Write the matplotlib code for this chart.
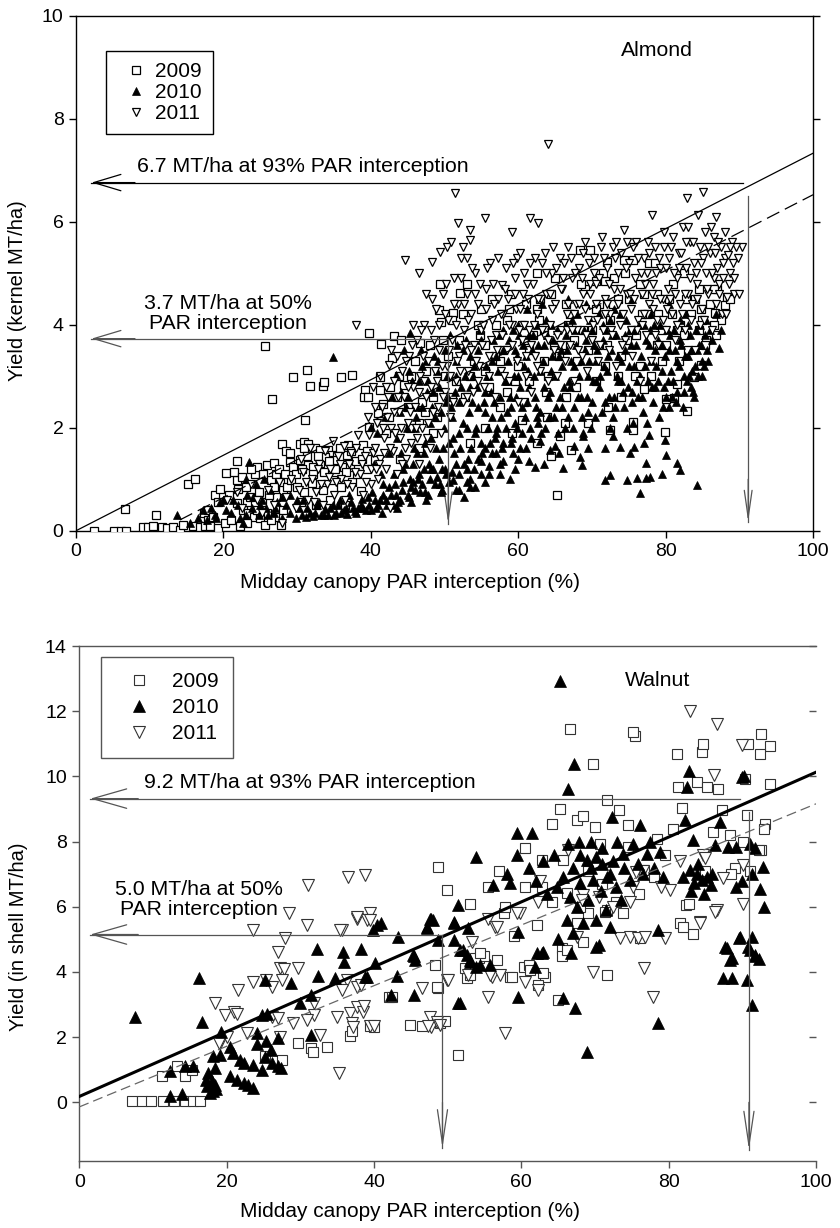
import numpy as np
import matplotlib
matplotlib.use("Agg")
import matplotlib.pyplot as plt
from matplotlib.lines import Line2D

plt.rcParams['font.family'] = ['Liberation Sans', 'DejaVu Sans']

# ---------------- Almond: (PAR interception %, kernel yield MT/ha) ----------------
alm_2009 = [
    (2.5, 0.0), (5.1, 0.0), (6.1, 0.0), (6.8, 0.0), (6.6, 0.43), (9.1, 0.08), (9.8, 0.08), (10.5, 0.1),
    (10.9, 0.30), (11.6, 0.08), (12.3, 0.06), (13.2, 0.08), (14.1, 0.01), (14.5, 0.12), (15.2, 0.9),
    (15.9, 0.1), (16.1, 1.0), (16.8, 0.08), (17.3, 0.34), (17.5, 0.1), (17.9, 0.40), (17.9, 0.2),
    (18.2, 0.1), (18.6, 0.26), (18.9, 0.69), (19.3, 0.56), (19.3, 0.05), (19.6, 0.82), (20.3, 1.13),
    (21.8, 0.98), (21.9, 1.36), (22.0, 0.82), (21.8, 0.54), (22.7, 0.40), (23.2, 0.56), (23.4, 0.34),
    (24.1, 0.27), (23.6, 0.66), (24.3, 1.11), (24.5, 1.24), (25.4, 1.11), (25.9, 1.28), (26.8, 1.31),
    (26.5, 0.98), (27.2, 1.11), (27.7, 0.92), (28.1, 0.79), (28.6, 0.85), (27.2, 0.66), (28.1, 0.40),
    (27.0, 0.26), (25.9, 0.34), (25.0, 0.24), (24.5, 0.40),
    (20.2, 0.15), (21.0, 0.2), (22.3, 0.1), (23.2, 0.15), (25.6, 0.12), (26.4, 0.2), (27.8, 0.12),
    (25.6, 3.59), (26.6, 2.56), (29.4, 2.99), (31.3, 3.13), (31.8, 2.81), (31.1, 2.15), (33.5, 2.81),
    (33.7, 2.88), (35.9, 2.99), (37.5, 3.02), (39.7, 3.84), (41.4, 3.62), (43.1, 3.78), (44.1, 3.70),
    (42.9, 3.35), (39.2, 2.73), (39.1, 2.59), (39.6, 2.59), (41.3, 2.99), (41.3, 2.73), (42.6, 2.80),
    (41.6, 2.47), (41.0, 2.28), (39.8, 2.02), (42.0, 1.90), (44.5, 2.83),
    (28.0, 1.68), (28.5, 1.55), (30.4, 1.69), (31.0, 1.72), (31.5, 1.69), (30.9, 1.60), (32.4, 1.60),
    (33.1, 1.57), (34.2, 1.57), (34.7, 1.48), (35.4, 1.46), (36.0, 1.43), (36.7, 1.48), (36.9, 1.67),
    (38.9, 1.67), (29.0, 1.34), (29.5, 1.24), (30.4, 1.37), (31.5, 1.28), (32.2, 1.24), (33.1, 1.31),
    (33.8, 1.44), (35.0, 1.37), (36.3, 1.24), (37.2, 1.24), (38.0, 1.35), (39.5, 1.20), (40.5, 1.38),
    (29.2, 0.98), (30.0, 0.85), (31.0, 0.75), (32.0, 0.92), (33.5, 0.80), (34.8, 0.98), (36.0, 0.85),
    (37.5, 0.95), (38.6, 0.78), (30.5, 0.55), (32.5, 0.5), (34.5, 0.6), (36.5, 0.5),
    (20.8, 0.7), (21.5, 1.15), (22.5, 1.05), (23.0, 0.85), (23.8, 1.2), (24.8, 0.75), (25.3, 0.55),
    (26.2, 0.7), (26.9, 0.85), (27.6, 1.2), (28.3, 1.1), (29.1, 1.5), (29.8, 1.1), (30.6, 1.2),
    (31.3, 1.45), (32.1, 1.1), (32.8, 1.45), (33.6, 1.15), (34.3, 1.35), (35.1, 1.2), (35.8, 1.6),
    (36.6, 1.15), (37.3, 1.55), (38.1, 1.1), (38.8, 1.4), (39.5, 1.55),
    (46.7, 3.64), (49.2, 4.29), (49.5, 4.06), (49.4, 4.80), (52.1, 4.61), (51.2, 4.22),
    (45.0, 2.4), (46.0, 3.3), (47.0, 2.5), (48.0, 3.6), (49.0, 2.2), (50.0, 3.0), (51.0, 4.1),
    (52.0, 3.7), (53.0, 4.8), (54.0, 3.3), (55.0, 4.3), (56.0, 2.8), (57.0, 4.0), (58.0, 3.5),
    (59.0, 4.6), (60.0, 3.2), (61.0, 4.4), (62.0, 3.8), (63.0, 4.5), (64.0, 3.0), (65.0, 4.9),
    (66.0, 3.6), (67.0, 4.2), (68.0, 3.3), (69.0, 4.7), (70.0, 3.9), (71.0, 4.4), (72.0, 3.6),
    (73.0, 4.9), (74.0, 3.4), (75.0, 4.5), (76.0, 3.8), (77.0, 4.6), (78.0, 3.0), (79.0, 4.2),
    (80.0, 3.6), (81.0, 4.8), (82.0, 4.0), (83.0, 3.5), (84.0, 4.5), (85.0, 4.1), (86.0, 4.4),
    (87.0, 4.7), (88.3, 4.54), (88.1, 4.39), (86.7, 4.22), (68.4, 5.45), (69.7, 5.45), (74.3, 5.26),
    (75.6, 5.26), (72.0, 5.22), (77.7, 5.19), (70.6, 4.84), (71.8, 4.84),
    (42.5, 2.2), (43.5, 2.6), (45.5, 3.0), (46.5, 2.1), (47.5, 3.1), (48.5, 2.6), (50.5, 3.4),
    (51.5, 2.9), (52.5, 4.2), (53.5, 3.0), (54.5, 4.0), (55.5, 3.6), (56.5, 4.5), (57.5, 3.3),
    (58.5, 4.1), (59.5, 2.9), (60.5, 4.0), (61.5, 3.5), (62.5, 4.3), (63.5, 3.9), (64.5, 4.6),
    (65.5, 3.4), (66.5, 4.4), (67.5, 3.7), (68.5, 4.8), (69.5, 3.5), (70.5, 4.3), (71.5, 5.0),
    (72.5, 4.1), (73.5, 4.5), (74.5, 5.0), (75.5, 3.9), (76.5, 4.8), (77.5, 4.2), (78.5, 5.2),
    (79.5, 3.9), (80.5, 4.5), (81.5, 3.9), (82.5, 5.0), (83.5, 4.2), (84.5, 4.7), (85.5, 3.7),
    (86.5, 4.7), (87.5, 4.1), (88.8, 4.5),
    (43.8, 3.0), (45.3, 2.0), (47.3, 2.3), (49.8, 3.7), (52.8, 2.6), (54.8, 3.8), (56.8, 3.4),
    (58.8, 4.3), (60.8, 3.7), (62.8, 4.1), (64.8, 3.6), (66.8, 4.0), (68.8, 3.9), (70.8, 3.6),
    (72.8, 4.4), (74.8, 3.7), (76.8, 4.2), (78.8, 4.6), (80.8, 4.2), (82.8, 4.5), (84.8, 4.3),
    (86.8, 3.8), (60.8, 2.5), (63.8, 2.7), (67.8, 2.8), (71.8, 3.2), (75.8, 3.0), (78.8, 3.6),
    (81.8, 3.3), (85.3, 3.6),
    (59.1, 1.89), (60.5, 2.15), (62.5, 1.70), (63.9, 2.21), (65.6, 1.83), (66.4, 2.09), (64.5, 1.45),
    (67.1, 1.57), (69.5, 2.09), (65.2, 0.69), (72.5, 1.96), (75.6, 2.12), (75.6, 1.95), (79.9, 1.92),
    (82.9, 2.33), (81.2, 2.57), (80.0, 2.55), (83.8, 2.99), (84.8, 3.22), (81.6, 2.85), (72.2, 2.41),
    (74.0, 2.6), (77.0, 2.75), (57.5, 2.4), (55.5, 2.0), (53.5, 1.7), (51.0, 2.6), (48.5, 1.9),
    (46.5, 1.6), (44.0, 1.4), (55.5, 3.1), (58.5, 2.7), (61.5, 2.9), (63.5, 3.3), (66.5, 2.6),
    (70.5, 2.9), (73.5, 3.0), (76.5, 3.2), (79.5, 3.3), (82.5, 3.8), (84.5, 3.9), (86.5, 4.0),
    (62.5, 5.0),
]

alm_2010 = [
    (13.7, 0.31), (15.5, 0.15), (16.5, 0.25), (17.2, 0.4), (17.8, 0.2), (18.3, 0.45), (18.8, 0.3),
    (19.5, 0.55), (20.3, 0.4), (21.3, 0.6), (22.2, 0.25), (22.7, 0.16), (23.5, 1.34), (23.2, 0.7),
    (23.9, 0.45), (24.4, 0.9), (24.8, 0.3), (25.3, 0.6), (25.8, 0.45), (26.3, 0.8), (26.8, 0.35),
    (27.3, 0.55), (27.9, 0.25), (28.5, 0.5), (29.0, 0.7), (29.9, 0.24), (30.3, 0.45), (30.8, 0.6),
    (31.2, 0.27), (31.7, 0.35), (32.2, 0.28), (32.7, 0.5), (33.2, 0.3), (33.8, 0.42), (34.2, 0.3),
    (34.9, 3.37), (34.8, 0.5), (35.3, 0.35), (35.8, 0.6), (36.3, 0.4), (36.8, 0.32), (37.3, 0.55),
    (37.8, 0.38), (38.3, 0.45), (38.8, 0.62), (39.3, 0.4), (39.8, 0.5), (40.2, 0.75), (40.0, 2.02),
    (19.0, 0.25), (20.0, 0.6), (21.0, 0.35), (22.0, 0.5), (23.0, 0.3), (24.0, 0.65), (25.0, 0.5),
    (26.0, 0.3), (27.0, 0.45), (28.0, 0.65), (29.0, 0.35), (30.0, 0.6), (25.5, 1.0), (23.0, 1.0),
    (30.6, 0.3), (31.4, 0.45), (32.4, 0.35), (33.0, 0.55), (33.6, 0.3), (34.4, 0.45), (35.0, 0.3),
    (35.6, 0.5), (36.0, 0.35), (36.6, 0.45), (37.0, 0.7), (37.6, 0.45), (38.0, 0.35), (38.6, 0.5),
    (39.0, 0.45), (39.6, 0.65), (40.0, 0.4), (40.6, 0.6), (41.0, 0.5), (41.6, 0.7), (42.0, 0.6),
    (42.4, 0.85), (43.0, 0.5), (43.4, 0.7), (44.0, 0.6), (44.4, 0.95), (45.0, 0.7), (45.4, 0.85),
    (46.0, 0.8), (46.4, 1.0), (47.0, 0.9), (47.4, 0.75), (48.0, 1.0), (48.4, 1.2), (49.0, 1.05),
    (49.4, 0.9), (50.0, 1.2), (51.0, 1.15), (52.0, 1.1), (53.0, 0.95), (54.0, 1.2), (55.0, 1.35),
    (56.0, 1.1), (57.0, 1.5), (58.0, 1.35), (59.0, 1.7), (60.0, 1.4),
    (41.5, 0.35), (43.5, 0.45), (45.5, 0.55), (47.5, 0.6), (49.5, 0.75), (51.5, 0.8), (53.5, 0.85),
    (55.5, 0.95), (57.5, 1.1), (59.5, 1.2), (61.5, 1.35), (63.5, 1.3), (65.5, 1.5), (67.5, 1.65),
    (69.5, 1.6), (61.0, 1.6), (63.0, 1.75), (65.0, 1.65),
    (40.7, 0.45), (41.2, 0.6), (41.7, 0.9), (42.2, 0.5), (42.7, 0.7), (43.2, 1.1), (43.7, 0.55),
    (44.2, 0.8), (44.7, 1.3), (45.2, 0.65), (45.7, 0.95), (46.2, 1.5), (46.7, 0.75), (47.2, 1.2),
    (47.7, 0.7), (48.2, 1.8), (48.7, 0.9), (49.2, 1.4), (49.7, 0.8), (50.2, 1.1),
    (43.4, 3.02), (45.3, 3.83), (44.5, 3.51), (44.0, 2.3), (45.0, 2.6), (46.0, 2.0), (46.5, 2.9),
    (47.0, 2.4), (47.5, 3.3), (48.0, 2.1), (48.5, 2.7), (49.0, 3.1), (49.5, 2.3), (50.0, 3.5),
    (50.5, 2.6),
    (40.4, 1.3), (40.9, 1.9), (41.4, 1.1), (41.9, 2.2), (42.4, 1.5), (42.9, 2.6), (43.3, 0.9),
    (43.6, 1.8), (44.1, 2.7), (44.4, 1.2), (44.9, 2.0), (45.3, 1.0), (45.6, 2.9), (45.9, 1.6),
    (46.3, 2.4), (46.6, 1.1), (46.9, 3.2), (47.3, 1.7), (47.6, 2.7), (47.9, 1.3), (48.3, 2.4),
    (48.6, 3.4), (48.9, 1.6), (49.3, 2.8), (49.6, 1.2), (49.9, 2.0), (50.3, 3.0), (50.6, 1.7),
    (50.9, 2.4), (51.3, 1.5), (51.6, 3.3), (51.9, 1.9), (52.3, 2.8), (52.6, 1.3), (52.9, 3.7),
    (53.3, 2.3), (53.6, 1.6), (53.9, 3.0), (54.3, 2.0), (54.6, 3.5), (54.9, 1.7), (55.3, 2.5),
    (55.6, 3.2), (55.9, 2.0), (56.3, 2.7), (56.6, 3.7), (56.9, 1.8), (57.3, 3.1), (57.6, 2.2),
    (57.9, 3.5), (58.3, 2.0), (58.6, 3.3), (58.9, 2.6), (59.3, 3.9), (59.6, 2.1), (59.9, 3.4),
    (60.3, 2.8), (60.6, 3.6), (60.9, 2.2), (61.3, 3.1), (61.6, 2.0), (61.9, 3.5), (62.3, 2.6),
    (62.6, 4.0), (62.9, 2.3), (63.3, 3.3), (63.6, 2.0), (63.9, 3.8), (64.3, 2.7), (64.6, 3.4),
    (64.9, 2.2), (65.3, 3.9), (65.6, 2.6), (65.9, 3.2), (66.3, 2.0), (66.6, 3.5), (66.9, 2.9),
    (67.3, 4.1), (67.6, 2.4), (67.9, 3.6), (68.3, 3.0), (68.6, 2.2), (68.9, 3.9), (69.3, 2.6),
    (69.6, 3.3), (69.9, 2.0), (70.3, 3.6), (70.6, 2.9), (70.9, 4.2), (71.3, 2.3), (71.6, 3.2),
    (71.9, 3.9), (72.3, 2.6), (72.6, 3.5), (72.9, 2.2), (73.3, 3.8), (73.6, 2.9), (73.9, 3.3),
    (74.3, 2.4), (74.6, 4.1), (74.9, 2.8), (75.3, 3.6), (75.6, 2.1), (75.9, 3.9), (76.3, 2.6),
    (76.6, 3.4), (76.9, 2.3), (77.3, 3.7), (77.6, 2.9), (77.9, 3.9), (78.3, 2.5), (78.6, 3.5),
    (78.9, 2.9), (79.3, 4.0), (79.6, 2.4), (79.9, 3.4), (80.3, 2.9), (80.6, 3.8), (80.9, 2.6),
    (81.3, 3.5), (81.6, 2.7), (81.9, 4.1), (82.3, 2.4), (82.6, 3.4), (82.9, 2.9), (83.3, 3.8),
    (83.6, 3.1), (83.9, 2.6), (84.3, 3.5), (84.6, 4.0), (84.9, 3.3), (85.3, 3.8), (85.6, 3.5),
    (86.0, 3.9),
    (44.15, 1.5), (44.75, 2.4), (45.15, 3.1), (45.75, 1.3), (46.15, 2.2), (46.75, 3.5), (47.15, 1.5),
    (47.75, 2.9), (48.15, 1.2), (48.75, 2.2), (49.15, 3.3), (49.75, 1.6), (50.15, 2.5), (50.75, 3.8),
    (51.15, 1.8), (51.45, 2.7), (51.75, 3.6), (52.15, 1.6), (52.45, 2.1), (52.75, 3.0), (53.15, 1.4),
    (53.45, 3.4), (53.75, 2.5), (54.15, 1.9), (54.45, 2.8), (54.75, 3.9), (55.15, 1.5), (55.45, 2.3),
    (55.75, 3.0), (56.15, 1.7), (56.45, 3.3), (56.75, 2.5), (57.15, 2.0), (57.45, 3.8), (57.75, 1.6),
    (58.15, 2.9), (58.45, 2.3), (58.75, 3.7), (59.15, 1.8), (59.45, 3.0), (59.75, 2.6), (60.15, 3.8),
    (60.45, 1.9), (60.75, 3.2), (61.15, 2.5), (61.45, 3.8), (61.75, 1.8), (62.15, 3.0), (62.45, 2.4),
    (62.75, 3.6), (63.15, 1.9), (63.45, 2.8), (63.75, 4.1), (64.15, 2.2), (64.45, 3.1), (64.75, 3.7),
    (65.15, 2.4), (65.45, 1.9), (65.75, 3.5), (66.15, 2.8), (66.45, 4.0), (66.75, 2.2), (67.15, 3.3),
    (67.45, 2.0), (67.75, 3.9), (68.15, 2.6), (68.45, 3.3), (68.75, 1.9), (69.15, 3.7), (69.45, 2.3),
    (69.75, 4.1), (70.15, 2.9), (70.45, 2.2), (70.75, 3.5), (71.15, 3.0), (71.45, 4.0), (71.75, 2.5),
    (72.15, 3.4), (72.45, 2.0), (72.75, 3.8), (73.15, 2.4), (73.45, 3.0), (73.75, 4.2), (74.15, 2.7),
    (74.45, 3.5), (74.75, 2.0), (75.15, 3.9), (75.45, 2.5), (75.75, 3.2), (76.15, 2.9), (76.45, 4.0),
    (76.75, 2.6), (77.15, 3.2), (77.45, 2.1), (77.75, 3.6), (78.15, 2.8), (78.45, 4.0), (78.75, 3.2),
    (79.15, 2.2), (79.45, 3.6), (79.75, 2.8), (80.15, 3.9), (80.45, 2.4), (80.75, 3.1), (81.15, 3.9),
    (81.45, 2.5), (81.75, 3.2), (82.15, 3.6), (82.45, 2.7), (82.75, 4.2), (83.15, 3.0), (83.45, 3.5),
    (83.75, 2.7), (84.15, 3.9), (84.45, 3.0), (84.75, 3.6), (85.15, 3.2), (85.45, 4.1), (85.8, 3.3),
    (86.3, 3.7), (86.8, 4.2), (87.5, 3.9),
    (50.6, 0.95), (51.2, 0.98), (51.5, 1.3), (52.0, 0.8), (52.6, 0.66), (53.0, 1.2), (53.5, 1.0),
    (54.1, 0.85), (54.5, 1.4), (55.0, 1.1), (55.5, 1.6), (56.0, 1.25), (56.5, 1.5), (57.0, 1.9),
    (57.5, 1.3), (58.0, 1.7), (58.9, 1.0), (59.3, 1.5), (59.8, 2.0), (60.3, 1.6),
    (51.0, 2.2), (51.5, 3.0), (52.0, 2.5), (52.5, 3.5), (53.0, 2.0), (53.5, 2.8), (54.0, 3.2),
    (54.5, 2.4), (55.0, 3.7), (55.5, 2.7), (56.0, 3.0), (56.5, 2.2), (57.0, 3.4), (57.5, 2.6),
    (58.0, 3.9), (58.5, 2.9), (59.0, 2.4), (59.5, 3.5), (60.0, 3.0), (60.0, 4.0),
    (60.5, 2.4), (61.0, 3.4), (61.5, 2.8), (62.0, 3.8), (62.3, 1.24), (62.7, 2.09), (62.5, 2.2),
    (63.0, 3.1), (63.5, 3.6), (64.0, 2.6), (64.3, 1.57), (64.5, 4.0), (65.0, 3.0), (65.5, 3.4),
    (66.0, 2.4), (66.1, 1.21), (66.5, 3.8), (67.0, 2.8), (67.5, 3.2), (68.0, 4.2), (68.4, 1.44),
    (68.6, 1.28), (68.8, 1.83), (68.5, 2.6), (69.0, 3.5), (69.5, 3.0), (70.0, 2.5), (70.0, 3.9),
    (61.2, 4.3), (63.2, 4.4), (66.8, 4.5), (69.2, 4.4),
    (70.5, 3.3), (71.0, 2.8), (71.5, 3.7), (71.8, 0.98), (71.8, 1.6), (72.0, 3.1), (72.5, 1.08),
    (72.9, 1.83), (72.5, 4.1), (73.0, 2.6), (73.5, 3.4), (73.8, 1.63), (74.0, 2.9), (74.5, 3.8),
    (74.7, 0.98), (75.0, 3.2), (75.2, 1.5), (75.5, 2.7), (75.7, 1.63), (76.0, 3.6), (76.1, 1.02),
    (76.5, 0.73), (76.5, 3.0), (77.0, 4.0), (77.0, 1.7), (77.4, 1.02), (77.4, 1.31), (77.7, 1.86),
    (77.9, 1.05), (78.0, 3.3), (78.5, 2.8), (79.0, 3.7), (79.5, 1.11), (79.9, 1.76), (79.5, 3.1),
    (80.0, 2.6), (80.1, 1.47),
    (80.5, 3.5), (81.0, 2.9), (81.5, 1.31), (81.5, 3.3), (82.0, 1.18), (82.0, 3.7), (82.5, 3.0),
    (83.0, 3.4), (83.5, 2.8), (84.0, 3.2), (84.2, 0.89), (84.5, 3.6), (85.0, 3.0), (87.2, 3.54),
    (73.0, 4.3), (75.5, 4.5), (78.0, 4.2), (80.5, 4.4), (83.0, 4.0),
]

alm_2011 = [
    (20.5, 0.6), (21.8, 0.75), (22.5, 0.45), (23.8, 0.9), (24.5, 0.6), (25.2, 0.35), (26.0, 0.8),
    (26.8, 0.5), (27.5, 0.95), (28.0, 0.16), (28.5, 0.65), (29.2, 1.0), (29.8, 0.45), (30.3, 0.8),
    (30.8, 1.15), (31.5, 0.6), (32.0, 1.0), (32.5, 0.75), (33.0, 1.3), (33.5, 0.5), (34.0, 0.9),
    (34.5, 1.2), (35.0, 0.7), (35.5, 1.45), (36.0, 1.0), (36.5, 0.6), (37.0, 1.3), (37.5, 0.85),
    (38.0, 1.6), (38.0, 3.99), (38.5, 1.1), (39.0, 0.7), (39.2, 1.45), (39.8, 1.85), (40.0, 1.2),
    (40.0, 0.9),
    (30.5, 1.4), (31.2, 0.95), (31.8, 1.6), (32.3, 0.55), (32.8, 1.2), (33.3, 0.9), (33.8, 1.55),
    (34.3, 1.05), (34.8, 1.75), (35.3, 0.95), (35.8, 1.3), (36.3, 1.65), (36.8, 0.9), (37.3, 1.5),
    (37.8, 1.15), (38.3, 1.85), (38.8, 1.3), (39.3, 0.95), (39.6, 2.2), (40.3, 1.5),
    (40.5, 1.6), (40.8, 2.1), (41.0, 1.0), (41.3, 1.4), (41.5, 2.4), (41.8, 1.8), (42.0, 1.2),
    (42.4, 3.22), (42.3, 2.6), (42.6, 0.45), (42.8, 2.0), (43.0, 1.55), (43.2, 2.9), (43.5, 1.1),
    (43.8, 2.3), (44.0, 1.8), (44.2, 3.1), (44.6, 5.26), (44.5, 2.6), (44.8, 1.4), (45.0, 2.1),
    (45.2, 3.4), (45.5, 1.7), (45.7, 2.8), (46.0, 2.4), (46.2, 3.7), (46.5, 1.3), (46.7, 3.0),
    (47.0, 2.0), (47.2, 4.0), (47.5, 2.6), (47.8, 3.3), (48.0, 1.6), (48.3, 5.22), (48.2, 3.9),
    (48.5, 2.3), (48.8, 4.3), (49.0, 2.9), (49.4, 5.42), (49.2, 3.5), (49.5, 1.9), (49.8, 4.6),
    (50.0, 2.7), (50.4, 5.51), (50.3, 3.2), (50.5, 4.1), (50.8, 2.2),
    (40.6, 2.4), (41.1, 1.3), (41.6, 2.0), (42.1, 2.8), (42.6, 1.6), (43.1, 2.3), (43.6, 3.4),
    (44.1, 2.0), (44.6, 1.6), (45.1, 2.8), (45.6, 3.6), (46.1, 2.0), (46.6, 2.7), (47.1, 3.4),
    (47.6, 1.8), (48.1, 2.8), (48.6, 3.7), (49.1, 2.4), (49.6, 3.2), (50.1, 4.2),
    (40.25, 2.8), (40.75, 1.2), (41.25, 3.0), (41.75, 1.5), (42.25, 2.2), (42.75, 3.5), (43.25, 1.9),
    (43.75, 2.6), (44.25, 1.3), (44.75, 3.3), (45.25, 2.3), (45.75, 4.0), (46.25, 1.8), (46.75, 3.9),
    (47.25, 2.9), (47.75, 2.1), (48.25, 4.5), (48.75, 3.1), (49.25, 4.0), (49.75, 2.6),
    (51.0, 3.7), (51.4, 6.55), (51.3, 4.9), (51.5, 2.9), (51.8, 5.98), (51.8, 4.4), (52.0, 3.4),
    (52.2, 5.3), (52.5, 2.5), (52.7, 3.9), (53.0, 4.6), (53.2, 3.1), (53.5, 5.84), (53.5, 5.65),
    (53.6, 4.2), (53.8, 2.7), (54.0, 3.6), (54.2, 5.0), (54.5, 4.4), (54.7, 3.2), (55.0, 3.9),
    (55.5, 6.07), (55.3, 2.8), (55.6, 4.7), (56.0, 3.4), (56.2, 5.2), (56.5, 4.1), (56.8, 2.6),
    (57.0, 3.8), (57.3, 4.5), (57.8, 4.77), (57.6, 3.1), (58.0, 4.2), (58.3, 5.1), (58.5, 3.5),
    (58.8, 2.9), (59.1, 5.81), (59.2, 4.0), (59.5, 4.6), (59.8, 5.29), (59.8, 3.3), (60.0, 2.5),
    (50.6, 3.5), (51.1, 2.5), (51.6, 4.0), (52.1, 3.1), (52.6, 4.4), (53.1, 2.6), (53.6, 3.5),
    (54.1, 4.6), (54.6, 2.9), (55.1, 3.6), (55.6, 4.3), (56.1, 3.0), (56.6, 4.8), (57.1, 3.5),
    (57.6, 4.2), (58.1, 3.0), (58.6, 4.5), (59.1, 3.6), (59.6, 4.9), (60.1, 3.9),
    (50.25, 4.8), (50.75, 3.0), (51.25, 4.4), (51.75, 3.3), (52.25, 4.9), (52.75, 3.6), (53.25, 4.1),
    (53.75, 5.1), (54.25, 3.3), (54.75, 4.8), (55.25, 4.0), (55.75, 5.1), (56.25, 3.7), (56.75, 4.4),
    (57.25, 5.3), (57.75, 3.8), (58.25, 4.7), (58.75, 4.0), (59.25, 5.2), (59.75, 4.3),
    (50.9, 5.6), (52.5, 5.5), (53.0, 5.3), (46.5, 5.0), (47.5, 4.6),
    (60.3, 4.3), (60.5, 3.7), (60.8, 5.0), (61.0, 3.0), (61.3, 4.5), (61.6, 6.07), (61.5, 3.9),
    (61.8, 2.7), (62.0, 4.8), (62.3, 3.4), (62.7, 5.97), (62.6, 4.2), (63.0, 3.1), (63.2, 5.2),
    (63.5, 3.8), (63.8, 4.6), (64.0, 7.5), (64.0, 2.9), (64.3, 4.0), (64.6, 5.0), (64.8, 3.5),
    (65.0, 4.4), (65.3, 3.0), (65.6, 5.3), (65.8, 3.9), (66.0, 4.7), (66.3, 3.3), (66.6, 4.2),
    (66.8, 5.5), (67.0, 3.6), (67.3, 4.9), (67.5, 2.9), (67.8, 4.4), (68.0, 3.9), (68.3, 5.1),
    (68.6, 3.4), (68.8, 4.6), (69.0, 5.6), (69.3, 3.1), (69.5, 4.1), (69.8, 4.8), (70.0, 3.7),
    (60.6, 4.6), (61.1, 3.4), (61.6, 5.2), (62.1, 4.0), (62.6, 3.2), (63.1, 4.5), (63.6, 5.4),
    (64.1, 3.7), (64.6, 4.3), (65.1, 5.1), (65.6, 3.6), (66.1, 4.9), (66.6, 3.9), (67.1, 5.3),
    (67.6, 4.2), (68.1, 3.5), (68.6, 4.9), (69.1, 4.3), (69.6, 5.2), (70.1, 4.0),
    (60.25, 5.4), (60.75, 4.0), (61.25, 4.8), (61.75, 3.6), (62.25, 5.3), (62.75, 4.5), (63.25, 3.9),
    (63.75, 5.0), (64.25, 4.6), (64.75, 5.5), (65.25, 3.8), (65.75, 4.7), (66.25, 5.2), (66.75, 4.4),
    (67.25, 3.9), (67.75, 5.0), (68.25, 4.4), (68.75, 5.4), (69.25, 3.8), (69.75, 4.6),
    (70.3, 5.3), (70.5, 4.4), (70.8, 3.3), (71.0, 4.9), (71.3, 5.7), (71.5, 3.9), (71.8, 4.5),
    (72.0, 5.1), (72.3, 3.5), (72.5, 4.2), (72.8, 5.5), (73.0, 4.7), (73.3, 3.2), (73.5, 5.0),
    (73.8, 4.0), (74.0, 5.4), (74.3, 5.84), (74.5, 3.7), (74.7, 4.6), (75.0, 5.2), (75.3, 4.3),
    (75.5, 3.4), (75.8, 4.9), (76.0, 5.6), (76.3, 4.1), (76.5, 2.9), (76.8, 4.6), (77.0, 5.3),
    (77.3, 3.8), (77.5, 5.0), (77.8, 4.4), (78.1, 6.13), (78.0, 3.3), (78.3, 4.8), (78.6, 5.5),
    (78.8, 4.1), (79.0, 3.6), (79.3, 5.1), (79.6, 4.5), (79.8, 5.8), (80.0, 3.9),
    (70.6, 4.8), (71.1, 3.6), (71.6, 5.3), (72.1, 4.4), (72.6, 3.9), (73.1, 5.3), (73.6, 4.4),
    (74.1, 3.6), (74.6, 5.1), (75.1, 4.6), (75.6, 5.5), (76.1, 3.9), (76.6, 5.0), (77.1, 4.2),
    (77.6, 5.6), (78.1, 4.6), (78.6, 3.8), (79.1, 5.3), (79.6, 4.1), (80.1, 5.1),
    (70.25, 5.0), (70.75, 4.1), (71.25, 5.5), (71.75, 4.2), (72.25, 4.8), (72.75, 3.8), (73.25, 5.6),
    (73.75, 4.7), (74.25, 4.2), (74.75, 5.6), (75.25, 3.9), (75.75, 4.5), (76.25, 5.3), (76.75, 4.0),
    (77.25, 4.8), (77.75, 5.4), (78.25, 4.3), (78.75, 5.0), (79.25, 4.5), (79.75, 5.5),
    (80.3, 4.7), (80.5, 5.3), (80.8, 4.2), (81.0, 5.7), (81.3, 3.7), (81.5, 4.9), (81.8, 5.4),
    (82.0, 4.4), (82.3, 5.9), (82.6, 3.9), (82.9, 6.47), (82.8, 5.1), (83.0, 4.6), (83.3, 5.6),
    (83.5, 4.1), (83.8, 5.2), (84.0, 3.5), (84.4, 6.13), (84.3, 4.8), (84.6, 5.5), (85.1, 6.58),
    (85.0, 4.3), (85.3, 5.8), (85.5, 5.0), (85.8, 4.6), (86.0, 5.4), (86.3, 3.9), (86.5, 5.7),
    (86.9, 6.1), (86.8, 4.4), (87.0, 5.1), (87.3, 4.8), (87.5, 5.5), (87.8, 4.9), (88.0, 5.3),
    (88.5, 5.35), (88.3, 4.54), (88.7, 5.0), (89.0, 5.6), (89.3, 4.6), (90.4, 5.51),
    (80.6, 4.5), (81.1, 5.0), (81.6, 4.0), (82.1, 5.4), (82.6, 4.6), (83.1, 5.9), (83.6, 4.4),
    (84.1, 5.0), (84.6, 4.0), (85.1, 5.3), (85.6, 4.7), (86.1, 5.9), (86.6, 4.9), (87.1, 5.6),
    (87.6, 4.2), (88.1, 5.8), (88.6, 4.8), (89.1, 5.2), (89.6, 5.5), (90.0, 4.6),
    (80.25, 4.3), (80.75, 5.5), (81.25, 4.6), (81.75, 5.1), (82.25, 4.2), (82.75, 5.6), (83.25, 4.9),
    (83.75, 5.6), (84.25, 4.5), (84.75, 5.2), (85.25, 4.1), (85.75, 5.5), (86.25, 5.0), (86.75, 5.4),
    (87.25, 4.6), (87.75, 5.2), (88.25, 4.2), (88.75, 5.5), (89.25, 4.9), (89.8, 5.3),
]

# ---------------- Walnut: (PAR interception %, in-shell yield MT/ha) ----------------
wal_2009 = [
    (7.1, 0.03), (8.5, 0.03), (9.8, 0.03), (11.4, 0.03), (12.8, 0.03), (14.3, 0.03), (15.5, 0.03),
    (16.4, 0.03), (11.2, 0.82), (13.2, 1.10), (14.4, 0.80), (15.3, 0.98), (25.2, 1.41), (27.5, 1.29),
    (29.7, 1.82), (31.5, 1.66), (31.7, 1.56), (33.6, 1.71), (36.7, 2.04), (37.0, 2.2), (39.5, 2.33),
    (40.0, 2.3), (42.0, 3.24), (42.4, 3.24), (44.9, 2.38), (46.5, 2.33), (49.0, 2.43), (49.6, 2.5),
    (51.4, 1.46), (48.3, 4.22), (48.7, 3.50), (52.6, 3.81), (53.0, 3.9), (54.2, 4.42), (55.0, 4.5),
    (56.7, 4.37), (58.5, 3.86), (60.3, 4.16), (61.0, 4.2), (63.2, 3.86), (62.2, 3.6), (65.0, 3.14),
    (65.5, 4.73), (65.5, 4.5), (68.4, 4.93), (71.6, 3.91), (67.5, 5.49), (69.1, 5.80), (71.6, 5.9),
    (73.8, 5.80), (57.6, 5.80), (62.1, 5.44), (81.5, 5.49), (83.3, 5.18), (82.4, 6.05), (76.1, 5.03),
    (66.6, 11.46), (75.4, 11.25), (75.1, 11.35), (69.8, 10.39), (81.1, 10.69), (84.5, 10.74),
    (84.7, 11.0), (92.6, 11.31), (93.8, 10.92), (92.4, 10.69), (90.8, 11.0), (93.8, 9.78),
    (83.8, 9.83), (85.2, 9.67), (86.7, 9.62), (81.3, 9.67), (90.4, 9.93), (71.6, 9.27), (73.2, 8.96),
    (65.3, 9.01), (67.5, 8.65), (68.4, 8.8), (70.0, 8.45), (64.1, 8.55), (74.5, 8.5), (81.8, 9.04),
    (87.2, 8.98), (90.6, 8.81), (93.1, 8.55), (92.9, 8.4), (90.1, 7.99), (92.6, 7.73), (88.3, 8.19),
    (80.6, 8.4), (78.4, 8.09), (60.5, 7.79), (62.8, 7.43), (65.7, 7.43), (74.5, 7.84), (70.7, 7.94),
    (48.7, 7.22), (49.9, 6.51), (53.0, 6.1), (60.5, 6.61), (62.8, 6.6), (66.2, 6.41), (72.9, 6.15),
    (71.4, 5.85), (82.7, 6.1), (81.9, 5.39), (76.6, 7.12), (64.1, 6.15), (57.8, 6.0), (66.2, 4.67),
    (63.0, 3.96), (61.2, 4.06), (58.7, 3.86), (53.7, 4.42), (54.4, 4.57), (52.4, 4.11), (48.5, 3.55),
    (92.2, 7.73), (89.0, 7.2), (85.0, 7.1), (78.0, 6.9), (79.5, 7.6), (57.0, 7.1), (55.5, 6.6),
    (59.0, 5.1), (68.0, 6.0), (69.0, 7.1), (71.0, 6.7), (76.0, 6.4), (86.0, 8.3), (88.5, 7.0),
    (91.0, 7.1),
]

wal_2010 = [
    (7.6, 2.63), (16.2, 3.83), (16.7, 2.45), (12.3, 0.95), (14.3, 1.1), (15.5, 1.1), (12.3, 0.18),
    (14.0, 0.25), (17.3, 0.5), (17.7, 0.3), (18.2, 0.34), (18.4, 0.52), (17.5, 0.9), (18.4, 1.05),
    (17.2, 0.7), (18.0, 0.65), (18.6, 0.4), (18.2, 1.41), (19.1, 1.45), (19.3, 2.17), (20.5, 1.71),
    (20.9, 1.51), (20.5, 0.8), (21.4, 0.7), (21.8, 1.31), (22.4, 1.2), (22.9, 0.54), (23.6, 0.44),
    (22.3, 0.59), (23.6, 1.15), (24.1, 2.12), (24.1, 1.8), (24.8, 1.0), (25.2, 1.4), (25.4, 1.87),
    (25.2, 3.76), (24.8, 2.68), (25.5, 2.7), (26.1, 1.2), (27.0, 1.1), (27.4, 1.05), (27.0, 1.97),
    (26.0, 1.6), (28.8, 3.65), (29.96, 3.04), (31.5, 3.3), (32.4, 3.88), (32.2, 4.7), (31.5, 2.07),
    (34.7, 3.81), (35.8, 4.62), (35.9, 4.31), (38.2, 4.7), (39.0, 3.86), (40.1, 4.27), (40.4, 5.44),
    (40.9, 5.5), (39.9, 5.29), (43.3, 5.06), (43.1, 3.88), (42.3, 3.3), (45.4, 3.3), (45.5, 4.5),
    (47.2, 5.34), (47.8, 5.64), (48.7, 4.98), (50.8, 5.54), (50.8, 4.98), (51.4, 3.04), (45.3, 4.52),
    (45.6, 4.37), (47.2, 5.39), (47.6, 5.64),
    (65.3, 12.93), (67.1, 10.39), (66.4, 9.62), (82.7, 10.18), (82.5, 9.67), (89.9, 9.98),
    (90.2, 10.0), (72.3, 8.75), (76.1, 8.5), (82.2, 8.65), (87.0, 8.6), (59.4, 8.25), (61.4, 8.25),
    (53.9, 7.53), (59.4, 7.58), (66.4, 7.94), (58.0, 7.02), (56.2, 6.66), (58.5, 6.72), (51.4, 6.05),
    (48.0, 5.59), (50.8, 5.49), (52.8, 5.34), (52.1, 4.67), (53.0, 4.37), (54.4, 4.21), (59.6, 5.23),
    (62.1, 4.57), (63.0, 4.62),
    (68.9, 7.43), (70.2, 7.53), (72.0, 7.02), (73.8, 7.63), (75.2, 7.94), (77.0, 7.63), (78.8, 7.68),
    (79.3, 6.92), (74.8, 6.82), (71.6, 6.92), (69.8, 6.82), (68.0, 6.72), (65.7, 6.92), (64.8, 6.61),
    (66.6, 6.31), (67.5, 6.0), (66.2, 5.59), (68.4, 5.49), (70.2, 5.59), (72.0, 5.39), (67.0, 7.2),
    (68.0, 7.6), (69.5, 7.2), (71.0, 7.3), (72.5, 7.4), (74.0, 7.2), (75.8, 7.3), (76.5, 7.0),
    (78.0, 7.2), (70.8, 6.5), (72.8, 6.6), (73.5, 6.2), (69.0, 6.2), (71.5, 5.9), (63.5, 6.4),
    (62.0, 6.8), (61.0, 7.2), (63.0, 7.4), (64.5, 7.6), (67.8, 8.0), (69.5, 8.0), (71.0, 7.8),
    (73.0, 8.0), (77.5, 8.0), (65.0, 5.0), (67.0, 5.2),
    (82.0, 6.92), (82.9, 7.12), (83.8, 7.02), (84.5, 6.82), (85.2, 6.92), (83.4, 6.72), (85.8, 6.66),
    (85.9, 7.0), (89.2, 6.61), (92.4, 6.56), (92.8, 7.22), (91.3, 7.02), (91.7, 7.79), (91.1, 7.94),
    (88.1, 7.84), (86.3, 7.89), (89.2, 7.84), (83.3, 8.04), (84.0, 7.3), (83.0, 6.5), (84.8, 6.4),
    (93.0, 6.0), (90.0, 6.8),
    (87.6, 4.78), (89.5, 5.03), (91.3, 5.08), (88.6, 4.42), (91.0, 4.67), (91.7, 4.5), (92.2, 4.4),
    (87.4, 3.81), (88.6, 3.81), (90.6, 3.76), (91.3, 2.99), (88.3, 4.37), (87.9, 4.73), (89.7, 5.08),
    (90.8, 4.78), (91.7, 4.52),
    (59.6, 3.24), (51.7, 3.04), (65.7, 3.2), (67.3, 2.89), (78.6, 2.43), (70.5, 4.83), (66.8, 4.57),
    (78.6, 5.29), (68.9, 1.56), (62.8, 4.57), (61.9, 4.16), (70.2, 4.78), (53.0, 4.32), (53.9, 4.16),
    (52.6, 4.52), (51.7, 4.67), (55.7, 4.21), (38.8, 3.86),
]

wal_2011 = [
    (18.4, 3.04), (21.6, 3.45), (19.8, 2.68), (21.0, 2.78), (21.4, 2.7), (22.7, 2.12), (19.1, 1.82),
    (23.6, 3.7), (25.4, 3.76), (26.1, 3.55), (27.0, 4.62), (27.2, 4.11), (27.8, 4.1), (27.5, 3.74),
    (23.6, 5.29), (27.9, 5.03), (28.4, 5.80), (29.7, 4.11), (30.9, 5.44), (31.8, 3.04), (31.8, 2.68),
    (29.0, 2.43), (26.1, 2.63), (27.0, 2.6), (32.7, 2.07), (35.2, 0.9), (35.6, 5.29), (36.3, 3.76),
    (37.7, 5.64), (39.5, 5.80), (39.0, 5.6), (35.0, 2.63), (36.7, 2.74), (37.7, 2.94), (38.5, 2.78),
    (38.7, 2.97), (37.0, 2.43), (37.2, 2.3), (39.5, 2.33), (40.0, 2.33), (35.6, 3.45), (37.7, 3.55),
    (38.2, 3.6), (46.5, 3.5), (47.6, 2.63), (47.7, 2.3), (49.9, 3.76), (30.9, 2.53), (27.2, 2.02),
    (20.0, 2.02), (18.9, 1.82), (36.5, 6.92), (38.8, 6.97), (31.1, 6.66), (37.7, 5.69), (39.5, 5.6),
    (35.4, 5.29),
    (82.9, 12.02), (86.5, 11.6), (89.9, 10.95), (86.1, 10.03), (66.4, 7.73), (84.7, 7.58), (85.0, 7.5),
    (90.1, 7.28), (87.4, 6.87), (75.2, 6.61), (75.6, 7.07), (76.5, 7.1), (68.4, 6.36), (68.2, 6.2),
    (62.3, 6.15), (55.5, 5.64), (56.4, 5.39), (59.8, 5.80), (80.2, 6.51), (86.5, 5.90), (90.1, 6.1),
    (84.2, 5.54), (79.5, 5.03), (76.6, 4.11), (77.9, 3.24), (69.8, 4.01), (73.4, 5.03), (74.7, 5.08),
    (75.9, 5.03), (76.8, 5.08), (67.5, 5.08), (57.8, 2.12), (55.5, 3.24), (62.3, 3.45), (52.8, 3.91),
    (56.0, 3.86), (60.5, 3.7), (56.7, 5.39), (48.5, 2.48), (49.0, 2.38), (47.4, 2.33), (50.1, 3.76),
    (55.7, 3.91), (57.1, 3.91), (86.3, 5.85), (84.3, 5.49), (74.7, 6.15), (59.4, 5.80), (53.3, 4.93),
    (62.5, 6.8), (70.5, 6.3), (72.5, 6.0), (79.0, 6.6), (81.5, 7.4),
]

# Fitted lines: (intercept, slope, x start, x end)
alm_fit_solid = (0.0, 0.0733, 0.0, 100.0)
alm_fit_dash = (-0.826, 0.0735, 14.1, 100.0)
wal_fit_solid = (0.18, 0.0995, 0.0, 100.0)
wal_fit_dash = (-0.14, 0.093, 0.0, 100.0)

years = ['2009', '2010', '2011']
x_ticks = [0, 20, 40, 60, 80, 100]

FS_TICK = 14
FS_TEXT = 15.3
FS_LABEL = 15
FS_YLABEL = 14.5


def xy(pts):
    a = np.array(pts, dtype=float)
    return a[:, 0], a[:, 1]


def fit_line(ax, fit, **kw):
    b0, b1, x0, x1 = fit
    xs = np.array([x0, x1])
    ax.plot(xs, b0 + b1 * xs, **kw)


def open_arrow(ax, start, tip, color, lw, hl, hw):
    ax.annotate('', xy=tip, xytext=start,
                arrowprops=dict(arrowstyle=f'->,head_length={hl},head_width={hw}',
                                mutation_scale=14, lw=lw, color=color,
                                shrinkA=0, shrinkB=0))


fig = plt.figure(figsize=(8.4, 12.28), dpi=100)

# ======================= Almond panel =======================
ax1 = fig.add_axes([0.0905, 0.5678, 0.8774, 0.4194])
ax1.set_xlim(0, 100)
ax1.set_ylim(0, 10)

sq_a = dict(ls='none', marker='s', ms=5.5, mfc='white', mec='black', mew=0.9)
dn_a = dict(ls='none', marker='v', ms=6.4, mfc='white', mec='black', mew=0.9)
up_a = dict(ls='none', marker='^', ms=5.6, mfc='black', mec='black', mew=0.5)

x, y = xy(alm_2009)
ax1.plot(x, y, zorder=3, **sq_a)
x, y = xy(alm_2010)
ax1.plot(x, y, zorder=4, **up_a)
x, y = xy(alm_2011)
ax1.plot(x, y, zorder=5, **dn_a)

fit_line(ax1, alm_fit_solid, color='black', lw=0.9, zorder=6)
fit_line(ax1, alm_fit_dash, color='black', lw=0.9, dashes=(11, 5), zorder=6)

# reference arrows
ax1.plot([2.1, 90.5], [6.76, 6.76], color='black', lw=0.9, zorder=7)
open_arrow(ax1, (8.0, 6.76), (2.1, 6.76), 'black', 0.9, 1.4, 0.42)
ax1.plot([2.1, 50.5], [3.73, 3.73], color='#555555', lw=0.9, zorder=7)
open_arrow(ax1, (8.0, 3.73), (2.1, 3.73), '#555555', 0.9, 1.4, 0.42)
ax1.plot([50.5, 50.5], [3.73, 0.14], color='#555555', lw=0.9, zorder=7)
open_arrow(ax1, (50.5, 1.0), (50.5, 0.14), '#555555', 0.9, 1.4, 0.2)
ax1.plot([91.2, 91.2], [6.49, 0.17], color='#555555', lw=0.9, zorder=7)
open_arrow(ax1, (91.2, 1.0), (91.2, 0.17), '#555555', 0.9, 1.4, 0.2)

ax1.text(8.3, 7.07, '6.7 MT/ha at 93% PAR interception', fontsize=FS_TEXT, va='center', ha='left')
ax1.text(20.6, 4.22, '3.7 MT/ha at 50%\nPAR interception', fontsize=FS_TEXT, va='center',
         ha='center', multialignment='center', linespacing=1.1)
ax1.text(78.8, 9.33, 'Almond', fontsize=FS_TEXT, va='center', ha='center')

ax1.set_xticks(x_ticks)
ax1.set_yticks([0, 2, 4, 6, 8, 10])
ax1.tick_params(direction='out', length=5, width=1, labelsize=FS_TICK, right=True, pad=4)
for s in ax1.spines.values():
    s.set_linewidth(1)
ax1.set_xlabel('Midday canopy PAR interception (%)', fontsize=FS_LABEL)
ax1.xaxis.set_label_coords(0.453, -0.082)
ax1.set_ylabel('Yield (kernel MT/ha)', fontsize=FS_YLABEL)
ax1.yaxis.set_label_coords(-0.066, 0.467)

h1 = [Line2D([], [], **sq_a), Line2D([], [], **up_a), Line2D([], [], **dn_a)]
leg1 = ax1.legend(h1, years, loc='upper left', bbox_to_anchor=(0.0403, 0.932), fontsize=15,
                  frameon=True, fancybox=False, edgecolor='black', framealpha=1,
                  handlelength=1.8, handletextpad=0.0, labelspacing=0.09, borderpad=0.55,
                  borderaxespad=0)
leg1.get_frame().set_linewidth(1)

# ======================= Walnut panel =======================
gray = '#555555'
ax2 = fig.add_axes([0.0944, 0.05456, 0.877, 0.4193])
ax2.set_xlim(0, 100)
ax2.set_ylim(-1.8, 14)

sq_w = dict(ls='none', marker='s', ms=7.0, mfc='white', mec='#333333', mew=0.8)
dn_w = dict(ls='none', marker='v', ms=8.0, mfc='white', mec='#333333', mew=0.8)
up_w = dict(ls='none', marker='^', ms=8.2, mfc='black', mec='black', mew=0.5)

x, y = xy(wal_2009)
ax2.plot(x, y, zorder=3, **sq_w)
x, y = xy(wal_2011)
ax2.plot(x, y, zorder=4, **dn_w)
x, y = xy(wal_2010)
ax2.plot(x, y, zorder=5, **up_w)

fit_line(ax2, wal_fit_solid, color='black', lw=2.2, zorder=6)
fit_line(ax2, wal_fit_dash, color='#666666', lw=0.9, dashes=(8, 4), zorder=6)

ax2.plot([1.5, 89.7], [9.32, 9.32], color=gray, lw=0.9, zorder=7)
open_arrow(ax2, (8.0, 9.32), (1.5, 9.32), gray, 0.9, 1.75, 0.5)
ax2.plot([1.5, 49.3], [5.15, 5.15], color=gray, lw=0.9, zorder=7)
open_arrow(ax2, (8.0, 5.15), (1.5, 5.15), gray, 0.9, 1.75, 0.5)
ax2.plot([49.3, 49.3], [5.15, -1.4], color=gray, lw=0.9, zorder=7)
open_arrow(ax2, (49.3, 0.0), (49.3, -1.4), gray, 0.9, 1.75, 0.26)
ax2.plot([90.9, 90.9], [8.9, -1.45], color=gray, lw=0.9, zorder=7)
open_arrow(ax2, (90.9, 0.0), (90.9, -1.45), gray, 0.9, 1.75, 0.26)

ax2.text(8.8, 9.8, '9.2 MT/ha at 93% PAR interception', fontsize=FS_TEXT, va='center', ha='left')
ax2.text(16.25, 6.23, '5.0 MT/ha at 50%\nPAR interception', fontsize=FS_TEXT, va='center',
         ha='center', multialignment='center', linespacing=1.1)
ax2.text(78.5, 12.94, 'Walnut', fontsize=FS_TEXT, va='center', ha='center')

ax2.set_xticks(x_ticks)
ax2.set_yticks([0, 2, 4, 6, 8, 10, 12, 14])
ax2.tick_params(direction='out', length=5, width=1, labelsize=FS_TICK, color=gray, pad=4)
ax2.spines['right'].set_visible(False)
for s in ['left', 'bottom', 'top']:
    ax2.spines[s].set_linewidth(1)
    ax2.spines[s].set_color(gray)
ax2.set_xlabel('Midday canopy PAR interception (%)', fontsize=FS_LABEL)
ax2.xaxis.set_label_coords(0.449, -0.08)
ax2.set_ylabel('Yield (in shell MT/ha)', fontsize=FS_YLABEL)
ax2.yaxis.set_label_coords(-0.07, 0.436)

# inward ticks along the right edge
axr = ax2.twinx()
axr.set_ylim(ax2.get_ylim())
axr.set_yticks([0, 2, 4, 6, 8, 10, 12, 14])
axr.tick_params(direction='in', length=5, width=1, color=gray, labelright=False)
for s in axr.spines.values():
    s.set_visible(False)

h2 = [Line2D([], [], **sq_w), Line2D([], [], **up_w), Line2D([], [], **dn_w)]
leg2 = ax2.legend(h2, years, loc='upper left', bbox_to_anchor=(0.029, 0.979), fontsize=15,
                  frameon=True, fancybox=False, edgecolor=gray, framealpha=1,
                  handlelength=2.24, handletextpad=0.45, labelspacing=0.35, borderpad=0.72,
                  borderaxespad=0)
leg2.get_frame().set_linewidth(1)

fig.savefig('out.png', dpi=100)
